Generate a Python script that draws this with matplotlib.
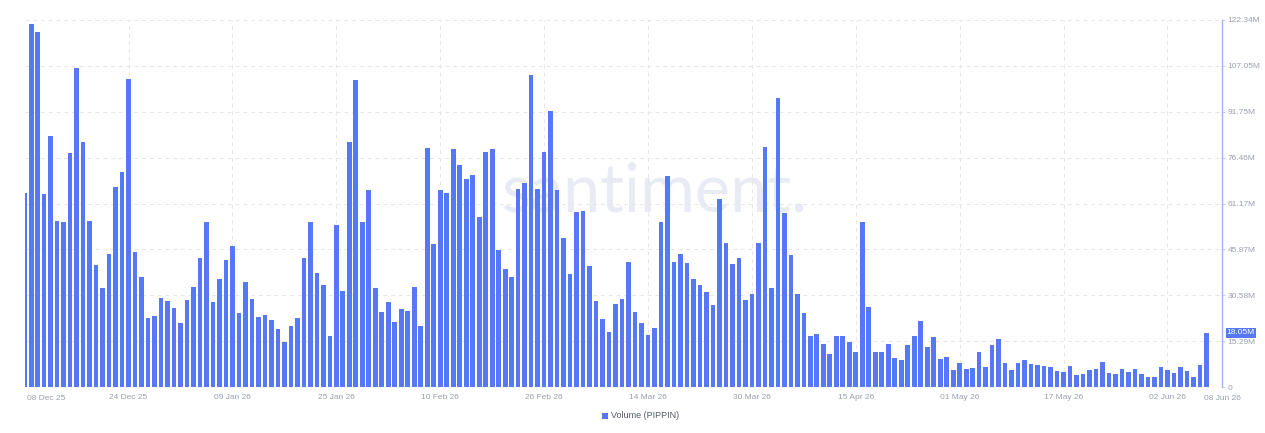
import matplotlib
matplotlib.use("Agg")
import matplotlib.pyplot as plt
import matplotlib.dates as mdates
import pandas as pd
import numpy as np

start_date = "2025-12-08"
volume_m = [
    64.7, 121.0, 118.4, 64.5, 83.7, 55.3, 55.0, 78.0, 106.2, 81.8,
    55.4, 40.7, 32.9, 44.2, 66.7, 71.6, 102.6, 45.1, 36.8, 22.9,
    23.8, 29.8, 28.7, 26.2, 21.2, 28.9, 33.3, 42.9, 54.9, 28.4,
    35.9, 42.2, 47.1, 24.6, 35.0, 29.4, 23.4, 23.9, 22.2, 19.3,
    14.9, 20.4, 22.9, 43.1, 55.0, 37.9, 34.0, 17.1, 53.9, 32.0,
    81.8, 102.2, 55.0, 65.7, 32.9, 25.0, 28.2, 21.7, 26.1, 25.3,
    33.4, 20.2, 79.6, 47.6, 65.7, 64.8, 79.4, 74.0, 69.2, 70.6,
    56.7, 78.2, 79.2, 45.8, 39.3, 36.8, 66.1, 68.0, 104.1, 66.0,
    78.4, 92.0, 65.7, 49.6, 37.8, 58.2, 58.7, 40.3, 28.6, 22.8,
    18.3, 27.8, 29.2, 41.7, 25.1, 21.2, 17.3, 19.6, 55.0, 70.3,
    41.6, 44.2, 41.4, 35.9, 34.1, 31.7, 27.2, 62.6, 48.0, 41.1,
    43.0, 28.9, 31.1, 48.1, 80.0, 32.9, 96.4, 57.9, 44.0, 31.0,
    24.6, 17.0, 17.6, 14.2, 11.0, 17.1, 17.1, 15.1, 11.6, 55.1,
    26.6, 11.7, 11.8, 14.2, 9.8, 9.0, 14.1, 17.0, 22.1, 13.4,
    16.6, 9.3, 9.9, 5.7, 7.9, 6.1, 6.2, 11.6, 6.7, 13.9,
    16.1, 8.0, 5.6, 7.9, 8.9, 7.8, 7.3, 6.9, 6.8, 5.2,
    4.9, 7.1, 4.0, 4.4, 5.6, 6.0, 8.2, 4.6, 4.3, 5.9,
    4.9, 6.0, 4.2, 3.4, 3.4, 6.8, 5.6, 4.7, 6.7, 5.3,
    3.4, 7.3, 18.05,
]
ytick_values = [0, 15.29, 30.58, 45.87, 61.17, 76.46, 91.75, 107.05, 122.34]
ytick_labels = ["0", "15.29M", "30.58M", "45.87M", "61.17M", "76.46M", "91.75M", "107.05M", "122.34M"]
xtick_dates = ["2025-12-24", "2026-01-09", "2026-01-25", "2026-02-10", "2026-02-26",
               "2026-03-14", "2026-03-30", "2026-04-15", "2026-05-01", "2026-05-17", "2026-06-02"]
xtick_labels = ["24 Dec 25", "09 Jan 26", "25 Jan 26", "10 Feb 26", "26 Feb 26",
                "14 Mar 26", "30 Mar 26", "15 Apr 26", "01 May 26", "17 May 26", "02 Jun 26"]
series_name = "Volume (PIPPIN)"
last_label = "18.05M"

plt.rcParams['font.family'] = ['Liberation Sans', 'DejaVu Sans']

dates = pd.date_range(start_date, periods=len(volume_m), freq="D")
x = mdates.date2num(dates)
xt = mdates.date2num(pd.to_datetime(xtick_dates))

BAR = "#5677f6"
GRID = "#e6e6e6"
TXT = "#9a9fab"

fig = plt.figure(figsize=(12.65, 4.33), dpi=100)
ax = fig.add_axes([25/1265, 1-387/433, (1222-25)/1265, (387-20)/433])

ax.bar(x, volume_m, width=0.72, color=BAR, zorder=3)

ax.set_xlim(x[0] + 0.05, x[-1] + 2.4)
ax.set_ylim(0, 122.34)

ax.text((655 - 25) / 1197, 1 - (192 - 20) / 367, "santiment.", transform=ax.transAxes,
        ha="center", va="center", fontsize=48, color="#e9ebf4", family=["Lato", "DejaVu Sans"],
        zorder=1)

ax.yaxis.tick_right()
ax.set_yticks(ytick_values)
ax.set_yticklabels(ytick_labels)
ax.tick_params(axis="y", length=2, width=0.6, color="#b8c4f7", labelsize=6, labelcolor=TXT, pad=2)
ax.set_xticks(xt)
ax.set_xticklabels(xtick_labels)
ax.tick_params(axis="x", length=0, labelsize=6, labelcolor=TXT, pad=5)

ax.grid(True, color=GRID, linestyle=(0, (4, 4)), linewidth=0.7, zorder=0)

for s in ["top", "left", "bottom"]:
    ax.spines[s].set_visible(False)
ax.spines["right"].set_color("#9fb1f7")
ax.spines["right"].set_linewidth(1.0)

# edge date labels
ax.text(x[0] + 0.4, -0.021, "08 Dec 25", transform=ax.get_xaxis_transform(),
        ha="left", va="top", fontsize=6, color=TXT)
ax.text(x[-1] - 0.4, -0.021, "08 Jun 26", transform=ax.get_xaxis_transform(),
        ha="left", va="top", fontsize=6, color=TXT)

# last value label on right axis
ax.text(1.004, volume_m[-1] / 122.34, last_label, transform=ax.transAxes,
        ha="left", va="center", fontsize=6, color="white",
        bbox=dict(boxstyle="square,pad=0.15", facecolor=BAR, edgecolor="none"), zorder=5)

# legend
fig.patches.append(plt.Rectangle((602/1265, 1-419/433), 6/1265, 6/433, transform=fig.transFigure,
                                 facecolor=BAR, edgecolor="none"))
fig.text(611/1265, 1-416/433, series_name, ha="left", va="center", fontsize=6.5, color="#555a66")

fig.savefig("out.png", dpi=100, facecolor="white")
